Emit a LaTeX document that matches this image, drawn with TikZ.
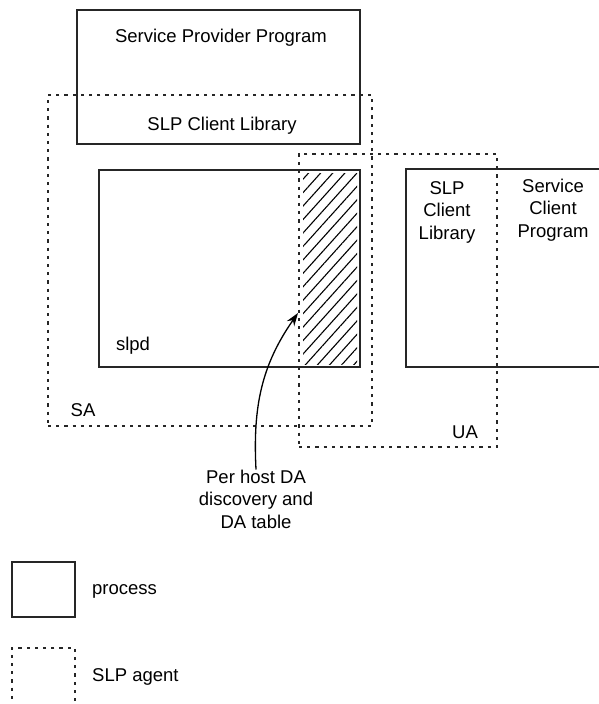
\documentclass[tikz,border=0pt]{standalone}
\usepackage{fontspec}
\setmainfont{Liberation Sans}
\usetikzlibrary{arrows.meta,patterns.meta}

\begin{document}
\begin{tikzpicture}[x=1pt, y=-1pt, >={Stealth[length=13pt,width=9pt]},
  font=\fontsize{18.5}{22.5}\selectfont,
  proc/.style={rectangle, draw=black!85, line width=1.5pt, inner sep=0pt},
  agent/.style={rectangle, draw=black!85, line width=1.8pt, dash pattern=on 3.2pt off 5pt, inner sep=0pt},
  lbl/.style={inner sep=0pt, align=center}]
  \useasboundingbox (0,0) rectangle (598,704);

  % processes
  \node[proc, minimum width=283pt, minimum height=134pt] (spp) at (218.5,77) {};
  \node[proc, minimum width=261pt, minimum height=197pt] (slpd) at (229.5,268.5) {};
  \node[proc, minimum width=196pt, minimum height=198pt] (scp) at (504,268) {};
  % DA table
  \path[pattern={Lines[angle=48,distance=9pt,line width=1.1pt]}]
    (303,173) rectangle (357,364);

  % agents
  \node[agent, minimum width=324pt, minimum height=331pt] (sa) at (210,260.5) {};
  \node[agent, minimum width=198pt, minimum height=293pt] (ua) at (398,300.5) {};

  % texts
  \node[lbl] (spptxt) at (221,38) {Service Provider Program};
  \node[lbl] (scl) at (222,126) {SLP Client Library};
  \node[lbl] (slpdtxt) at (133,346) {slpd};
  \node[lbl] (satxt) at (83,410) {SA};
  \node[lbl] (uatxt) at (465,432) {UA};
  \node[lbl] (ucl) at (447,212) {SLP\\Client\\Library};
  \node[lbl] (scptxt) at (553,210) {Service\\Client\\Program};
  \node[lbl] (note) at (256,499) {Per host DA\\discovery and\\DA table};

  \coordinate (hatch) at (298,313);
  \draw[->, line width=1.3pt] (note.north) to[out=93, in=235] (hatch);

  % legend
  \node[proc, minimum width=63pt, minimum height=55pt] (lproc) at (43.5,589.5) {};
  \node[lbl, anchor=west] (lproctxt) at (92,591) {process};
  \node[agent, minimum width=63pt, minimum height=64pt] (lagent) at (43.5,680) {};
  \node[lbl, anchor=west] (lagenttxt) at (92,677) {SLP agent};
\end{tikzpicture}
\end{document}
